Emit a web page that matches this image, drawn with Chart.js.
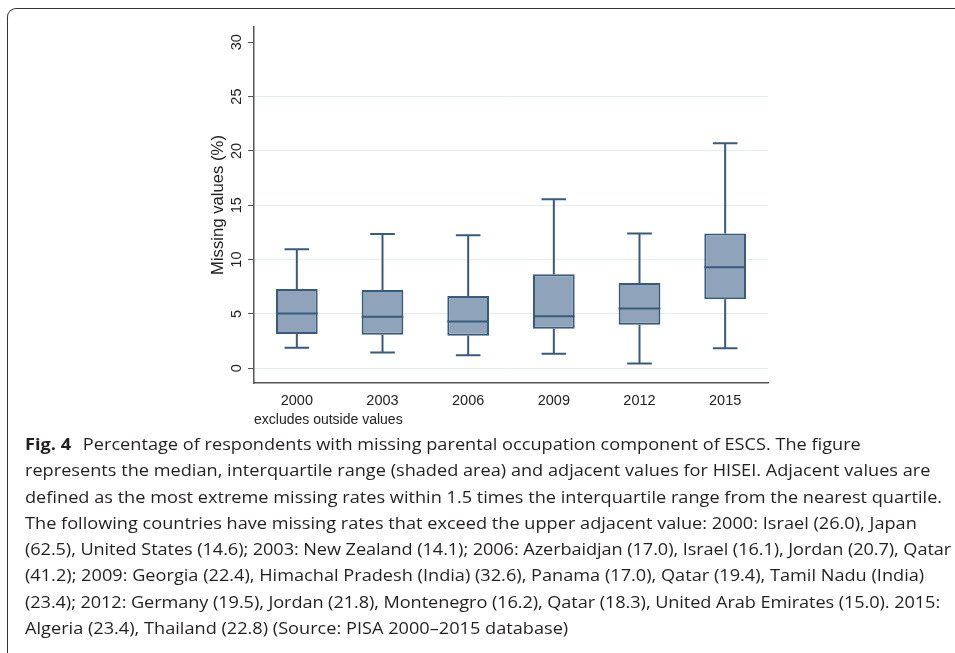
<!DOCTYPE html>
<html>
<head>
<meta charset="utf-8">
<script src="https://cdn.jsdelivr.net/npm/chart.js@4.4.1/dist/chart.umd.min.js"></script>
<style>
    html, body { margin: 0; padding: 0; background: #fff; }
    body { width: 955px; height: 653px; position: relative; overflow: hidden; }
    #frame {
        position: absolute; left: 7px; top: 8px; width: 1000px; height: 1000px;
        border-left: 1.3px solid #333; border-top: 1.3px solid #333;
        border-top-left-radius: 9px;
    }
    #chart-wrap { position: absolute; left: 190px; top: 14px; width: 590px; height: 420px; }
    #caption {
        position: absolute; left: 25px; top: 432px;
        font-family: 'Open Sans', sans-serif; font-size: 15.4px; line-height: 26.3px;
        color: #231f20;
        transform: scaleX(1.18); transform-origin: 0 0;
    }
    #caption .ln { display: block; white-space: nowrap; }
    #caption .tight { letter-spacing: -0.07px; }
    #caption b { margin-right: 6px; }
</style>
</head>
<body>
<div id="frame"></div>
<div id="chart-wrap"><canvas id="box-chart" width="590" height="420"></canvas></div>
<div id="caption">
    <span class="ln"><b>Fig. 4</b> Percentage of respondents with missing parental occupation component of ESCS. The figure</span>
    <span class="ln">represents the median, interquartile range (shaded area) and adjacent values for HISEI. Adjacent values are</span>
    <span class="ln">defined as the most extreme missing rates within 1.5 times the interquartile range from the nearest quartile.</span>
    <span class="ln">The following countries have missing rates that exceed the upper adjacent value: 2000: Israel (26.0), Japan</span>
    <span class="ln tight">(62.5), United States (14.6); 2003: New Zealand (14.1); 2006: Azerbaidjan (17.0), Israel (16.1), Jordan (20.7), Qatar</span>
    <span class="ln">(41.2); 2009: Georgia (22.4), Himachal Pradesh (India) (32.6), Panama (17.0), Qatar (19.4), Tamil Nadu (India)</span>
    <span class="ln tight">(23.4); 2012: Germany (19.5), Jordan (21.8), Montenegro (16.2), Qatar (18.3), United Arab Emirates (15.0). 2015:</span>
    <span class="ln">Algeria (23.4), Thailand (22.8) (Source: PISA 2000–2015 database)</span>
</div>
<script>
// PISA survey years and box plot statistics (missing values, %)
const years = ['2000', '2003', '2006', '2009', '2012', '2015'];
const lowerAdjacent = [1.9, 1.45, 1.2, 1.35, 0.45, 1.85];
const lowerQuartile = [3.15, 3.1, 3.0, 3.65, 4.0, 6.35];
const medians = [5.05, 4.75, 4.3, 4.8, 5.5, 9.3];
const upperQuartile = [7.3, 7.2, 6.65, 8.65, 7.85, 12.4];
const upperAdjacent = [10.95, 12.35, 12.25, 15.55, 12.4, 20.7];
const yTicks = [0, 5, 10, 15, 20, 25, 30];
const yMin = -1.35;
const yMax = 31.4;

const boxFill = '#8fa4ba';
const boxLine = '#3a5a7c';
const axisColor = '#555';
const chartFont = "'Liberation Sans', Arial, sans-serif";

// whiskers are drawn under the boxes, medians on top of them
const boxWhiskers = {
    id: 'boxWhiskers',
    beforeDatasetsDraw(chart) {
        const { ctx, scales: { x, y } } = chart;
        const bars = chart.getDatasetMeta(0).data;
        ctx.save();
        ctx.strokeStyle = boxLine;
        ctx.lineWidth = 2;
        years.forEach((year, i) => {
            const cx = x.getPixelForValue(i);
            const half = bars[i].width * 0.295;
            [[upperQuartile[i], upperAdjacent[i]], [lowerQuartile[i], lowerAdjacent[i]]].forEach(([from, to]) => {
                const y1 = y.getPixelForValue(from);
                const y2 = y.getPixelForValue(to);
                ctx.beginPath();
                ctx.moveTo(cx, y1);
                ctx.lineTo(cx, y2);
                ctx.moveTo(cx - half, y2);
                ctx.lineTo(cx + half, y2);
                ctx.stroke();
            });
        });
        ctx.restore();
    },
    afterDatasetsDraw(chart) {
        const { ctx, scales: { x, y } } = chart;
        const bars = chart.getDatasetMeta(0).data;
        ctx.save();
        ctx.strokeStyle = boxLine;
        ctx.lineWidth = 2;
        medians.forEach((m, i) => {
            const cx = x.getPixelForValue(i);
            const half = bars[i].width / 2;
            const my = y.getPixelForValue(m);
            ctx.beginPath();
            ctx.moveTo(cx - half, my);
            ctx.lineTo(cx + half, my);
            ctx.stroke();
        });
        ctx.restore();
    }
};

const ctx = document.getElementById('box-chart').getContext('2d');
new Chart(ctx, {
    type: 'bar',
    data: {
        labels: years,
        datasets: [{
            label: 'Interquartile range',
            data: years.map((_, i) => [lowerQuartile[i], upperQuartile[i]]),
            backgroundColor: boxFill,
            borderColor: boxLine,
            borderWidth: 2,
            borderSkipped: false,
            categoryPercentage: 1,
            barPercentage: 0.487
        }]
    },
    options: {
        responsive: false,
        animation: false,
        layout: { padding: { top: 13, right: 12, bottom: 0, left: 0 } },
        plugins: {
            legend: { display: false },
            tooltip: { enabled: false }
        },
        scales: {
            x: {
                offset: true,
                afterFit: (scale) => { scale.height = 51; },
                grid: { display: false, drawTicks: false },
                border: { color: axisColor, width: 1.5 },
                ticks: { color: '#222', padding: 9, font: { family: chartFont, size: 14.5 } },
                title: {
                    display: true, text: 'excludes outside values', align: 'start',
                    color: '#222', padding: { top: 0, bottom: 5 },
                    font: { family: chartFont, size: 14 }
                }
            },
            y: {
                min: yMin,
                max: yMax,
                afterFit: (scale) => { scale.width = 64; },
                afterBuildTicks: (scale) => { scale.ticks = yTicks.map(v => ({ value: v })); },
                grid: {
                    color: (c) => (c.tick && c.tick.value === 30) ? 'rgba(0,0,0,0)' : '#e6eded',
                    tickColor: axisColor,
                    tickLength: 6,
                    lineWidth: 1
                },
                border: { color: axisColor, width: 1.5 },
                ticks: {
                    color: '#222', padding: 3, minRotation: 90, maxRotation: 90,
                    crossAlign: 'center',
                    font: { family: chartFont, size: 14.5 }
                },
                title: {
                    display: true, text: 'Missing values (%)', color: '#222',
                    padding: { top: 18, bottom: 0 },
                    font: { family: chartFont, size: 16.7 }
                }
            }
        }
    },
    plugins: [boxWhiskers]
});
</script>
</body>
</html>
